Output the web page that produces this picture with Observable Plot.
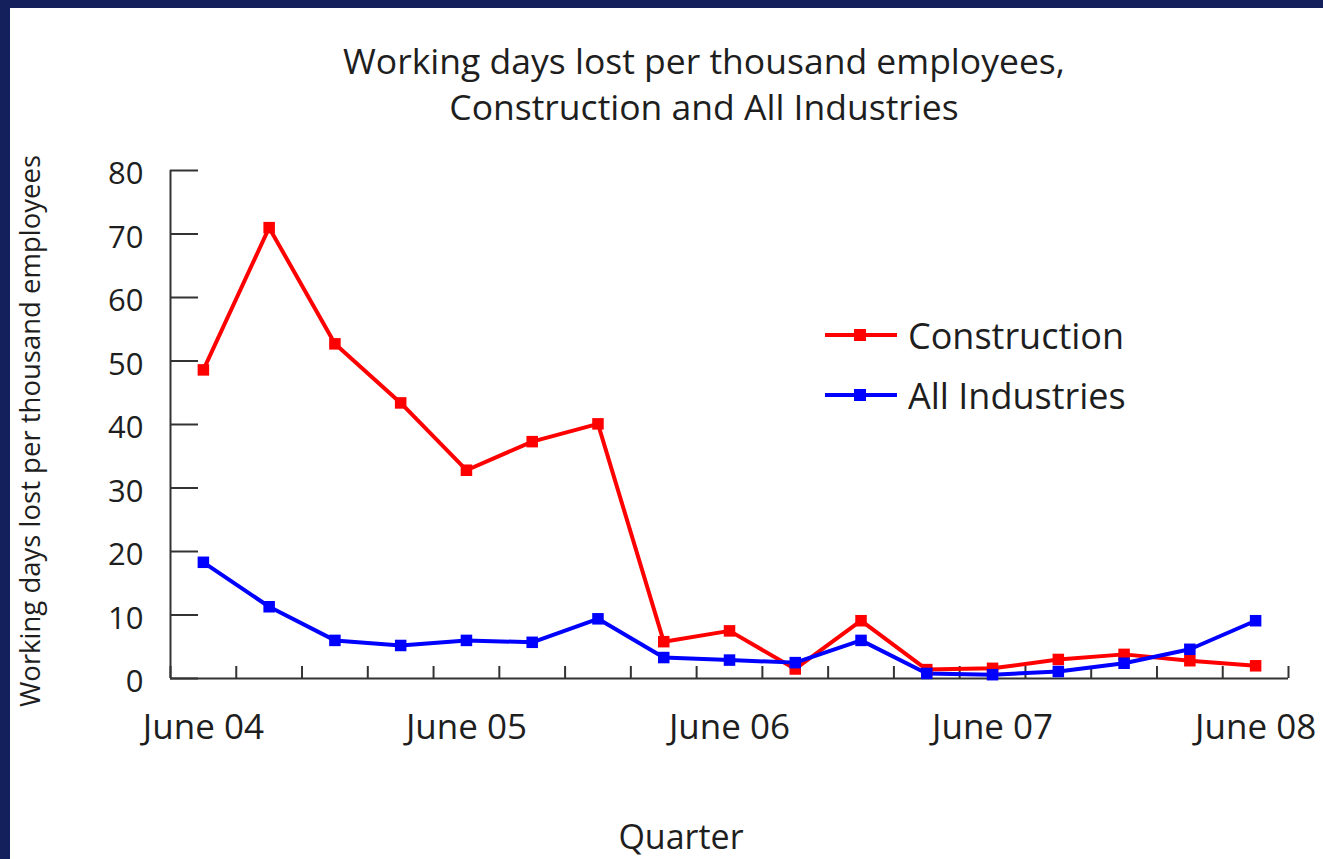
<!DOCTYPE html>
<html>
<head>
<meta charset="utf-8">
<script src="https://cdn.jsdelivr.net/npm/d3@7"></script>
<script src="https://cdn.jsdelivr.net/npm/@observablehq/plot@0.6"></script>
<style>
  html, body { margin: 0; padding: 0; background: #fff; }
  #wrap { position: relative; width: 1323px; height: 859px; overflow: hidden; background: #fff; font-family: "Open Sans", sans-serif; color: #1e1e1e; }
  .bar-top { position: absolute; left: 0; top: 0; width: 1323px; height: 8px; background: #13205c; }
  .bar-left { position: absolute; left: 0; top: 0; width: 10px; height: 859px; background: #13205c; }
  #chart { position: absolute; left: 0; top: 0; }
  #title { position: absolute; left: 204px; width: 1000px; top: 37px; text-align: center; font-size: 35.5px; line-height: 46px; }
  #ylab { position: absolute; left: 29px; top: 431px; transform: translate(-50%, -50%) rotate(-90deg); white-space: nowrap; font-size: 27.5px; }
  #xlab { position: absolute; left: 681px; top: 836px; transform: translate(-50%, -50%); font-size: 34px; line-height: 34px; white-space: nowrap; }
  #legend { position: absolute; left: 825px; top: 305px; font-size: 36px; }
  .lrow { display: flex; align-items: center; height: 60px; }
  .lrow svg { margin-right: 11px; }
</style>
</head>
<body>
<div id="wrap">
  <div id="chart"></div>
  <div class="bar-top"></div>
  <div class="bar-left"></div>
  <div id="title">Working days lost per thousand employees,<br>Construction and All Industries</div>
  <div id="ylab">Working days lost per thousand employees</div>
  <div id="xlab">Quarter</div>
  <div id="legend"></div>
</div>
<script>
const quarters = ["June 04","Sept 04","Dec 04","Mar 05","June 05","Sept 05","Dec 05","Mar 06","June 06","Sept 06","Dec 06","Mar 07","June 07","Sept 07","Dec 07","Mar 08","June 08"];
const construction = [48.6, 71.0, 52.7, 43.4, 32.8, 37.3, 40.1, 5.8, 7.5, 1.5, 9.1, 1.4, 1.6, 3.0, 3.8, 2.8, 2.0];
const allIndustries = [18.3, 11.3, 6.0, 5.2, 6.0, 5.7, 9.4, 3.3, 2.9, 2.5, 6.0, 0.8, 0.6, 1.1, 2.4, 4.6, 9.1];
const seriesNames = ["Construction", "All Industries"];
const seriesColors = ["#ff0000", "#0000ff"];
const yTicks = [0, 10, 20, 30, 40, 50, 60, 70, 80];

const rows = quarters.flatMap((q, i) => [
  {i, q, series: seriesNames[0], value: construction[i]},
  {i, q, series: seriesNames[1], value: allIndustries[i]}
]);
const boundaries = d3.range(quarters.length + 1).map(i => i - 0.5);
const labelIdx = quarters.map((q, i) => i).filter(i => quarters[i].startsWith("June"));
const axisColor = "#333";

const chart = Plot.plot({
  width: 1323,
  height: 859,
  marginLeft: 170,
  marginRight: 35,
  marginTop: 170,
  marginBottom: 181,
  style: {fontFamily: "Open Sans, sans-serif", fontSize: "30px", color: "#1e1e1e", background: "transparent", overflow: "visible"},
  x: {type: "linear", domain: [-0.5, quarters.length - 0.5]},
  y: {domain: [0, 80]},
  color: {domain: seriesNames, range: seriesColors},
  marks: [
    Plot.axisY(yTicks, {tickSize: -28, fill: "none", label: null, stroke: axisColor, strokeWidth: 2}),
    Plot.axisY(yTicks, {tickSize: 0, tickPadding: 27, label: null, dy: 4, fontSize: 31}),
    Plot.axisX(boundaries, {tickSize: -12, fill: "none", label: null, stroke: axisColor, strokeWidth: 2}),
    Plot.axisX(labelIdx, {tickSize: 0, tickPadding: 36, label: null, fontSize: 35, tickFormat: i => quarters[i]}),
    Plot.ruleX([-0.5], {stroke: axisColor, strokeWidth: 2}),
    Plot.ruleY([0], {stroke: axisColor, strokeWidth: 2}),
    Plot.line(rows, {x: "i", y: "value", z: "series", stroke: "series", strokeWidth: 4}),
    Plot.dot(rows, {x: "i", y: "value", fill: "series", symbol: "square", r: 6.5})
  ]
});
document.getElementById("chart").appendChild(chart);

const legend = document.getElementById("legend");
seriesNames.forEach((name, k) => {
  const row = document.createElement("div");
  row.className = "lrow";
  row.innerHTML = `<svg width="72" height="16"><line x1="0" y1="8" x2="72" y2="8" stroke="${seriesColors[k]}" stroke-width="4"/><rect x="29" y="2" width="12" height="12" fill="${seriesColors[k]}"/></svg><span>${name}</span>`;
  legend.appendChild(row);
});
</script>
</body>
</html>
